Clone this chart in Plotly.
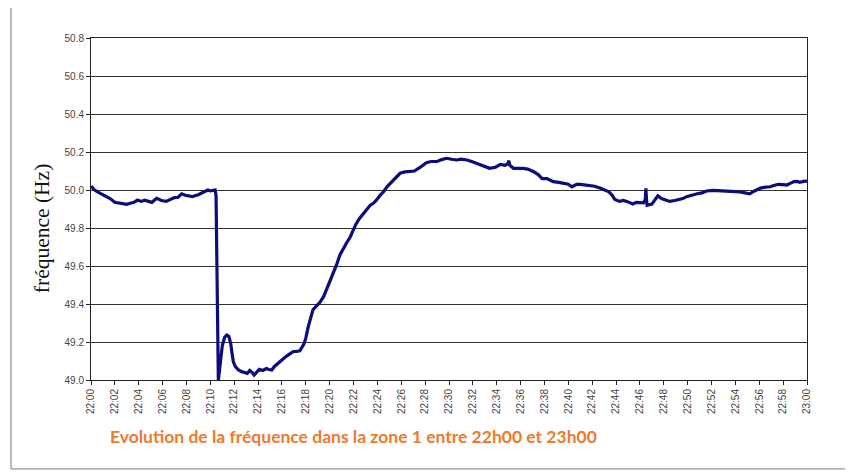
import plotly.graph_objects as go

minutes = [
    0.0, 0.3, 0.7, 1.2, 1.6, 2.0, 2.5, 3.0, 3.3, 3.6, 3.9, 4.2, 4.5, 4.8, 5.1,
    5.5, 5.9, 6.3, 6.7, 7.0, 7.3, 7.6, 7.9, 8.2, 8.5, 8.7, 9.0, 9.4, 9.8,
    10.0, 10.25, 10.4, 10.48, 10.55, 10.62, 10.67, 10.75, 10.87, 11.0, 11.2,
    11.37, 11.55, 11.71, 11.82, 11.93, 12.1, 12.35, 12.6, 12.9, 13.1, 13.3,
    13.5, 13.66, 13.9, 14.1, 14.4, 14.7, 14.9, 15.15, 15.35, 15.56, 15.9,
    16.26, 16.6, 16.96, 17.2, 17.5, 17.85, 18.0, 18.2, 18.4, 18.6, 18.9,
    19.2, 19.5, 19.76, 20.0, 20.3, 20.6, 20.87, 21.1, 21.4, 21.7, 22.0,
    22.2, 22.5, 22.8, 23.1, 23.4, 23.66, 23.9, 24.2, 24.5, 24.8, 25.0,
    25.3, 25.6, 25.9, 26.3, 26.7, 27.1, 27.6, 28.1, 28.5, 29.0, 29.4, 29.8,
    30.2, 30.65, 31.0, 31.5, 31.9, 32.3, 32.8, 33.4, 33.9, 34.3, 34.7,
    34.95, 35.0, 35.1, 35.4, 35.8, 36.2, 36.6, 37.1, 37.5, 37.8, 38.2,
    38.75, 39.2, 39.6, 40.0, 40.3, 40.7, 41.0, 41.4, 41.8, 42.2, 42.7,
    43.1, 43.4, 43.7, 43.9, 44.3, 44.6, 44.9, 45.2, 45.4, 45.7, 46.0, 46.3,
    46.45, 46.5, 46.55, 46.6, 47.0, 47.3, 47.5, 47.8, 48.0, 48.5, 48.9,
    49.2, 49.6, 49.9, 50.4, 50.8, 51.2, 51.6, 52.1, 52.7, 53.2, 53.6,
    54.0, 54.4, 54.8, 55.2, 55.6, 56.1, 56.5, 56.9, 57.3, 57.6, 58.0,
    58.3, 58.6, 58.9, 59.2, 59.4, 59.7, 60.0,
]
freq_hz = [
    50.02, 50.00, 49.985, 49.97, 49.955, 49.935, 49.93, 49.925, 49.93,
    49.935, 49.947, 49.94, 49.946, 49.94, 49.935, 49.956, 49.945, 49.94,
    49.95, 49.96, 49.962, 49.98, 49.972, 49.97, 49.965, 49.97, 49.975,
    49.988, 50.0, 49.995, 50.0, 50.0, 49.97, 49.60, 49.20, 49.0, 49.04,
    49.105, 49.18, 49.225, 49.237, 49.23, 49.19, 49.14, 49.096, 49.07,
    49.053, 49.045, 49.04, 49.035, 49.05, 49.04, 49.026, 49.04, 49.056,
    49.05, 49.06, 49.055, 49.053, 49.07, 49.082, 49.1, 49.12, 49.135,
    49.15, 49.15, 49.154, 49.19, 49.22, 49.28, 49.33, 49.37, 49.39, 49.41,
    49.44, 49.48, 49.51, 49.56, 49.61, 49.66, 49.69, 49.72, 49.75, 49.79,
    49.82, 49.85, 49.875, 49.895, 49.92, 49.93, 49.945, 49.97, 49.99,
    50.017, 50.03, 50.05, 50.07, 50.088, 50.095, 50.096, 50.1, 50.12,
    50.144, 50.15, 50.15, 50.16, 50.167, 50.162, 50.158, 50.162, 50.158,
    50.15, 50.14, 50.13, 50.114, 50.12, 50.135, 50.13, 50.14, 50.155,
    50.13, 50.114, 50.115, 50.114, 50.11, 50.096, 50.08, 50.06, 50.06,
    50.044, 50.04, 50.035, 50.03, 50.017, 50.03, 50.03, 50.026, 50.026,
    50.02, 50.009, 50.0, 49.99, 49.97, 49.95, 49.94, 49.945, 49.94, 49.93,
    49.926, 49.935, 49.935, 49.933, 49.95, 50.009, 49.95, 49.92, 49.926,
    49.95, 49.97, 49.955, 49.95, 49.94, 49.945, 49.95, 49.955, 49.965,
    49.975, 49.98, 49.985, 49.995, 49.998, 49.996, 49.995, 49.99, 49.992,
    49.99, 49.985, 49.98, 49.995, 50.01, 50.015, 50.017, 50.025, 50.03,
    50.028, 50.026, 50.035, 50.044, 50.045, 50.04, 50.045, 50.047,
]

tick_minutes = list(range(0, 61, 2))
tick_labels = [f"{22 + m // 60}:{m % 60:02d}" for m in tick_minutes]
y_ticks = [49.0, 49.2, 49.4, 49.6, 49.8, 50.0, 50.2, 50.4, 50.6, 50.8]

fig = go.Figure()
fig.add_trace(go.Scatter(
    x=minutes,
    y=freq_hz,
    mode='lines',
    line={'color': '#0c0c7a', 'width': 3.2},
    hoverinfo='skip',
))

fig.update_xaxes(
    range=[0, 60],
    tickvals=tick_minutes,
    ticktext=tick_labels,
    tickangle=-90,
    ticks='outside',
    ticklen=4,
    tickcolor='#222',
    tickfont={'family': 'Arial, Liberation Sans', 'size': 10, 'color': '#444'},
    showgrid=False,
    showline=True,
    linecolor='#222',
    linewidth=1,
    mirror=True,
    zeroline=False,
)
fig.update_yaxes(
    range=[49.0, 50.8],
    tickvals=y_ticks,
    tickformat='.1f',
    ticks='outside',
    ticklen=4,
    tickcolor='#222',
    tickfont={'family': 'Arial, Liberation Sans', 'size': 10, 'color': '#444'},
    showgrid=True,
    gridcolor='#333',
    gridwidth=1,
    showline=True,
    linecolor='#222',
    linewidth=1,
    mirror=True,
    zeroline=False,
)

# y axis title sits a little below the plot centre, as in the original
fig.add_annotation(
    text='fréquence (Hz)', textangle=-90,
    xref='paper', yref='paper', x=-0.0684, y=0.444,
    xanchor='center', yanchor='middle', showarrow=False,
    font={'family': 'Liberation Serif, Times New Roman', 'size': 21.5, 'color': '#111'},
)

# outer chart frame
fig.add_shape(type='rect', xref='paper', yref='paper',
              x0=-0.1117, x1=1.057, y0=-0.26, y1=1.0936,
              line={'color': '#777', 'width': 1})

fig.add_annotation(
    text='Evolution de la fréquence dans la zone 1 entre 22h00 et 23h00',
    xref='paper', yref='paper', x=0.367, y=-0.164,
    xanchor='center', yanchor='middle', showarrow=False,
    font={'family': 'Lato, Open Sans', 'size': 17.5, 'color': '#ef7a2c', 'weight': 'bold'},
)

# the page body adds an 8px offset, so the figure is sized to the visible area
fig.update_layout(
    width=845,
    height=464,
    margin={'l': 83, 'r': 46, 't': 30, 'b': 92},
    plot_bgcolor='white',
    paper_bgcolor='white',
    showlegend=False,
)

fig.write_html("out.html")
